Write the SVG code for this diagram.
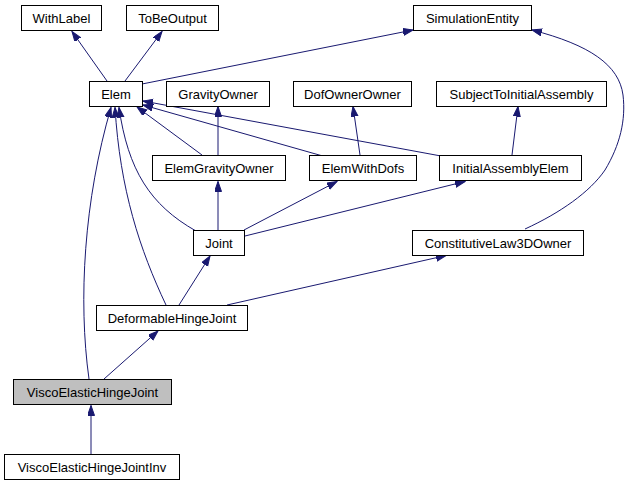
<svg xmlns="http://www.w3.org/2000/svg" width="630" height="485" viewBox="0 0 630 485">
<style>
.node rect{fill:#ffffff;stroke:#000000;stroke-width:1}
.node.hl rect{fill:#bfbfbf}
.node text{font-family:"Liberation Sans",Arial,sans-serif;font-size:13px;fill:#000000;text-anchor:middle}
.edges path{fill:none;stroke:#191970;stroke-width:1;marker-end:url(#arr)}
</style>
<defs>
<marker id="arr" markerUnits="userSpaceOnUse" markerWidth="11" markerHeight="8" refX="10" refY="3.5" orient="auto">
<path d="M0,0 L10,3.5 L0,7 z" fill="#191970" stroke="#191970" stroke-width="1"/>
</marker>
</defs>
<rect width="630" height="485" fill="#ffffff"/>
<g class="edges">
<path d="M107,81 L72,31.5"/>
<path d="M125,81 L162,31.5"/>
<path d="M142,84 L413,30"/>
<path d="M202,155 L137,107"/>
<path d="M218,155 L218,106.5"/>
<path d="M321,155.5 L143,105"/>
<path d="M441,156 L143,101"/>
<path d="M360,155 L353,106.5"/>
<path d="M512,155 L518,106.5"/>
<path d="M196,231 C150,205 128,170 119,107.5"/>
<path d="M166,305 C140,250 120,190 115,107.5"/>
<path d="M89,379 C78,300 84,200 111,107.5"/>
<path d="M218,230 L218,181.5"/>
<path d="M244,230 L337,181.5"/>
<path d="M245,236 L465,181.5"/>
<path d="M179,305 L210,256"/>
<path d="M227,305 L446,255.5"/>
<path d="M525,229 C560,213 590,192 605,170 C620,145 626,120 623,95 C619,65 590,45 532,30"/>
<path d="M104,379 L158,331"/>
<path d="M91,454 L91,405.5"/>
</g>
<g id="WithLabel" class="node"><rect x="21.5" y="5.5" width="80" height="25"/><text x="61.5" y="22.5">WithLabel</text></g>
<g id="ToBeOutput" class="node"><rect x="126.5" y="5.5" width="92" height="25"/><text x="172.5" y="22.5">ToBeOutput</text></g>
<g id="SimulationEntity" class="node"><rect x="413.5" y="5.5" width="118" height="25"/><text x="472.5" y="22.5">SimulationEntity</text></g>
<g id="Elem" class="node"><rect x="89.5" y="81.5" width="53" height="25"/><text x="116" y="98.5">Elem</text></g>
<g id="GravityOwner" class="node"><rect x="166.5" y="81.5" width="103" height="25"/><text x="218" y="98.5">GravityOwner</text></g>
<g id="DofOwnerOwner" class="node"><rect x="293.5" y="81.5" width="118" height="25"/><text x="352.5" y="98.5">DofOwnerOwner</text></g>
<g id="SubjectToInitialAssembly" class="node"><rect x="436.5" y="81.5" width="170" height="25"/><text x="521.5" y="98.5">SubjectToInitialAssembly</text></g>
<g id="ElemGravityOwner" class="node"><rect x="152.5" y="155.5" width="133" height="25"/><text x="219" y="172.5">ElemGravityOwner</text></g>
<g id="ElemWithDofs" class="node"><rect x="309.5" y="155.5" width="107" height="25"/><text x="363" y="172.5">ElemWithDofs</text></g>
<g id="InitialAssemblyElem" class="node"><rect x="439.5" y="155.5" width="142" height="25"/><text x="510.5" y="172.5">InitialAssemblyElem</text></g>
<g id="Joint" class="node"><rect x="193.5" y="230.5" width="51" height="25"/><text x="219" y="247.5">Joint</text></g>
<g id="ConstitutiveLaw3DOwner" class="node"><rect x="412.5" y="230.5" width="171" height="25"/><text x="498" y="247.5">ConstitutiveLaw3DOwner</text></g>
<g id="DeformableHingeJoint" class="node"><rect x="96.5" y="305.5" width="151" height="25"/><text x="172" y="322.5">DeformableHingeJoint</text></g>
<g id="ViscoElasticHingeJoint" class="node hl"><rect x="13.5" y="379.5" width="158" height="25"/><text x="92.5" y="396.5">ViscoElasticHingeJoint</text></g>
<g id="ViscoElasticHingeJointInv" class="node"><rect x="4.5" y="454.5" width="175" height="25"/><text x="92" y="471.5">ViscoElasticHingeJointInv</text></g>
</svg>
